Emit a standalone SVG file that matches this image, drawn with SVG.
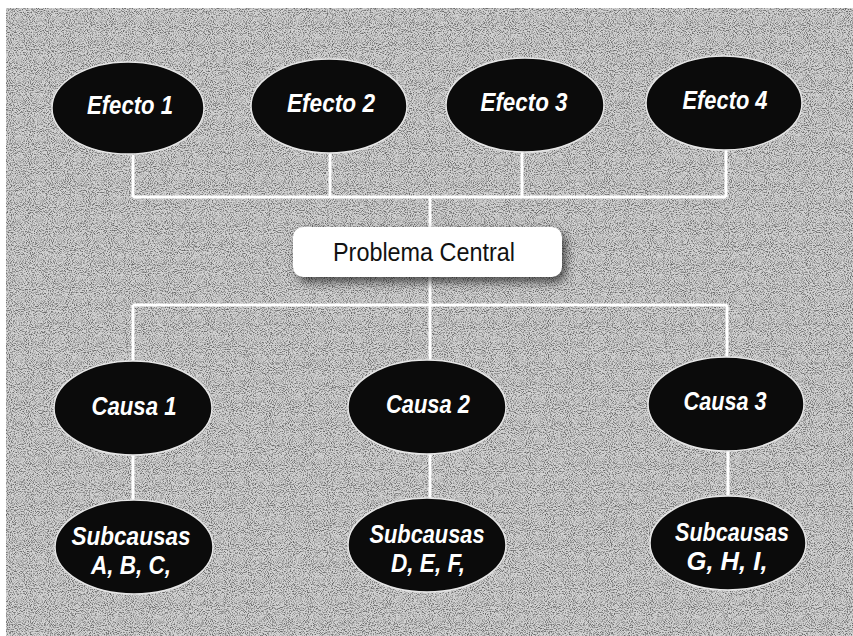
<svg xmlns="http://www.w3.org/2000/svg" width="853" height="636" viewBox="0 0 853 636">
  <defs>
    <filter id="grain" x="0" y="0" width="100%" height="100%">
      <feTurbulence type="fractalNoise" baseFrequency="0.95" numOctaves="2" seed="7" result="n"/>
      <feColorMatrix in="n" type="matrix" values="0 0 0 0 0  0 0 0 0 0  0 0 0 0 0  -3.2 0 0 0 1.8"/>
    </filter>
    <filter id="shadow" x="-20%" y="-50%" width="140%" height="200%">
      <feGaussianBlur stdDeviation="5"/>
    </filter>
    <style>
      .bg { fill: #d2d2d2; }
      .node ellipse { fill: #0b0b0b; stroke: #e6e6e6; stroke-width: 1.5; }
      .lbl { fill: #ffffff; font-family: "Liberation Sans", Arial, sans-serif; font-weight: bold; font-style: italic; font-size: 26px; text-anchor: middle; }
      .conn { stroke: #ffffff; stroke-width: 3; fill: none; }
      .box { fill: #ffffff; }
      .central { fill: #111111; font-family: "Liberation Sans", Arial, sans-serif; font-size: 25px; text-anchor: middle; }
    </style>
  </defs>

  <rect x="0" y="0" width="853" height="636" fill="#ffffff"/>
  <rect class="bg" x="6" y="8" width="847" height="628"/>
  <rect x="6" y="8" width="847" height="628" fill="#000" filter="url(#grain)" opacity="0.5"/>

  <g id="connectors">
    <path class="conn" d="M133 155 V197 M330 153 V197 M522 152 V197 M726 150 V197 M133 197 H726 M430 197 V228"/>
    <path class="conn" d="M430 276 V305 M133 305 H727 M133 305 V362 M430 305 V360 M727 305 V357"/>
    <path class="conn" d="M133 455 V500 M430 454 V498 M728 450 V496"/>
  </g>

  <g id="efecto1" class="node"><ellipse cx="128" cy="108" rx="76" ry="46"/><text class="lbl" x="130" y="114" textLength="86" lengthAdjust="spacingAndGlyphs">Efecto 1</text></g>
  <g id="efecto2" class="node"><ellipse cx="329" cy="106" rx="78" ry="47"/><text class="lbl" x="331" y="112" textLength="88" lengthAdjust="spacingAndGlyphs">Efecto 2</text></g>
  <g id="efecto3" class="node"><ellipse cx="525" cy="105" rx="79" ry="47"/><text class="lbl" x="524" y="111" textLength="87" lengthAdjust="spacingAndGlyphs">Efecto 3</text></g>
  <g id="efecto4" class="node"><ellipse cx="724" cy="103" rx="78" ry="47"/><text class="lbl" x="725" y="109" textLength="85" lengthAdjust="spacingAndGlyphs">Efecto 4</text></g>

  <g id="problema">
    <rect x="297" y="232" width="269" height="50" rx="10" fill="#000" opacity="0.6" filter="url(#shadow)"/>
    <rect class="box" x="293" y="227" width="269" height="50" rx="10"/>
    <text class="central" x="424" y="261" textLength="182" lengthAdjust="spacingAndGlyphs">Problema Central</text>
  </g>

  <g id="causa1" class="node"><ellipse cx="133" cy="408" rx="79" ry="47"/><text class="lbl" x="134" y="415" textLength="85" lengthAdjust="spacingAndGlyphs">Causa 1</text></g>
  <g id="causa2" class="node"><ellipse cx="427" cy="407" rx="79" ry="47"/><text class="lbl" x="428" y="413" textLength="84" lengthAdjust="spacingAndGlyphs">Causa 2</text></g>
  <g id="causa3" class="node"><ellipse cx="726" cy="404" rx="78" ry="47"/><text class="lbl" x="725" y="410" textLength="83" lengthAdjust="spacingAndGlyphs">Causa 3</text></g>

  <g id="subcausas1" class="node"><ellipse cx="134" cy="547" rx="79" ry="47"/>
    <text class="lbl" x="131" y="545" textLength="119" lengthAdjust="spacingAndGlyphs">Subcausas</text>
    <text class="lbl" x="131" y="574" textLength="80" lengthAdjust="spacingAndGlyphs">A, B, C,</text></g>
  <g id="subcausas2" class="node"><ellipse cx="427" cy="545" rx="79" ry="47"/>
    <text class="lbl" x="427" y="543" textLength="115" lengthAdjust="spacingAndGlyphs">Subcausas</text>
    <text class="lbl" x="428" y="572" textLength="74" lengthAdjust="spacingAndGlyphs">D, E, F,</text></g>
  <g id="subcausas3" class="node"><ellipse cx="728" cy="543" rx="78" ry="47"/>
    <text class="lbl" x="732" y="541" textLength="114" lengthAdjust="spacingAndGlyphs">Subcausas</text>
    <text class="lbl" x="727" y="570" textLength="81" lengthAdjust="spacingAndGlyphs">G, H, I,</text></g>
</svg>
